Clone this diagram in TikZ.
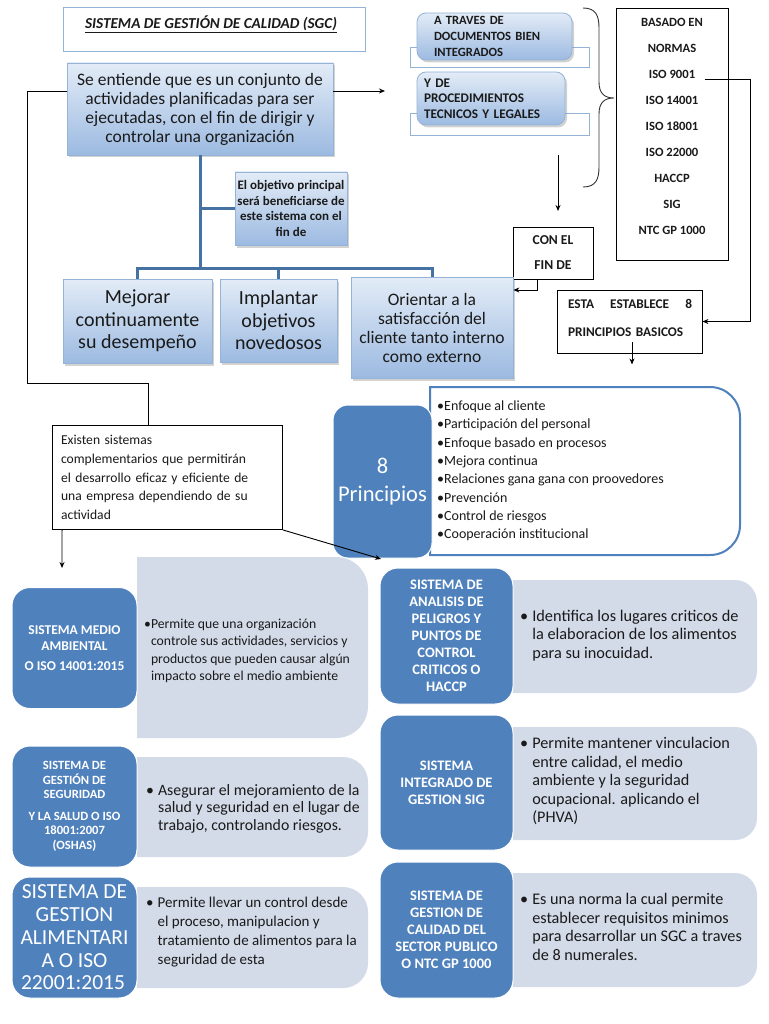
\documentclass[tikz,border=0pt]{standalone}
\usepackage{fontspec}
\setmainfont{Carlito}
\usetikzlibrary{shadows,arrows.meta}
\definecolor{dblue}{HTML}{4F81BD}
\definecolor{gblue}{HTML}{D3DAE8}
\definecolor{lborder}{HTML}{95B3D7}
\definecolor{gtop}{HTML}{E3ECF7}
\definecolor{gbot}{HTML}{9CBAE1}
\definecolor{tline}{HTML}{4672A3}
\definecolor{txt}{HTML}{1A1A1A}
\newcommand{\fsz}[2]{\fontsize{#1}{#2}\selectfont}
\newcommand{\rrshape}[3]{\path[#3] (#1.north west) -- ([xshift=-#2]#1.north east) to[out=0,in=90] ([yshift=-#2]#1.north east) -- ([yshift=#2]#1.south east) to[out=-90,in=0] ([xshift=-#2]#1.south east) -- (#1.south west) -- cycle;}
\begin{document}
\begin{tikzpicture}[x=1pt,y=-1pt,
  gradbox/.style={draw=lborder, line width=0.8pt, top color=gtop, bottom color=gbot, drop shadow={opacity=0.35,shadow xshift=2pt,shadow yshift=-2.5pt}, inner sep=0pt, align=center, text=txt},
  plainbox/.style={draw=black, line width=0.9pt, fill=white, inner sep=0pt, text=txt},
  darkbox/.style={fill=dblue, draw=white, line width=1pt, rounded corners=18pt, text=white, align=center, inner sep=0pt},
  holder/.style={inner sep=0pt, outer sep=0pt},
  arr/.style={draw=black, line width=0.9pt, -{Stealth[length=6pt,width=5pt]}},
  conn/.style={draw=black, line width=0.9pt},
  tree/.style={draw=tline, line width=3pt, line join=miter},
  btext/.style={text=txt, anchor=west, inner sep=0pt},
]
\useasboundingbox (0,0) rectangle (768,1024);
\fill[white] (0,0) rectangle (768,1024);

% title
\node[draw=lborder, line width=1pt, fill=white, minimum width=302pt, minimum height=44pt] (title) at (214,30) {};
\node[font=\fsz{15.2}{18}\bfseries\itshape, text=txt] (titletext) at (211,24) {\underline{SISTEMA DE GESTIÓN DE CALIDAD (SGC)}};

% main box
\node[gradbox, minimum width=266pt, minimum height=92pt, font=\fsz{17.5}{19}] (main) at (200,109) {Se entiende que es un conjunto de\\actividades planificadas para ser\\ejecutadas, con el fin de dirigir y\\controlar una organización};

% top right boxes
\node[draw=lborder, line width=0.8pt, fill=white, minimum width=179pt, minimum height=20pt, inner sep=0pt] (bk1) at (499.5,57) {};
\node[draw=lborder, line width=0.8pt, fill=white, minimum width=179pt, minimum height=22pt, inner sep=0pt] (bk2) at (499.5,124) {};
\node[gradbox, rounded corners=9pt, minimum width=155pt, minimum height=47pt, font=\fsz{12.6}{16}\bfseries, align=left, text width=121pt] (doc) at (494.5,36.5) {A TRAVES DE\\DOCUMENTOS BIEN\\INTEGRADOS};
\node[gradbox, rounded corners=9pt, minimum width=148pt, minimum height=53pt, font=\fsz{13.2}{15.5}\bfseries, align=left, text width=134pt] (proc) at (491,98.5) {Y DE\\PROCEDIMIENTOS\\TECNICOS Y LEGALES};

% brace
\draw[line width=0.9pt, draw=black!80] (583,8) .. controls (596,8) and (599,16) .. (599,28) -- (599,82) .. controls (599,93) and (604,98) .. (614,98) .. controls (604,98) and (599,103) .. (599,114) -- (599,167) .. controls (599,179) and (596,187) .. (583,187);

% normas
\node[plainbox, minimum width=112pt, minimum height=252pt] (norm) at (672,134) {};
\foreach \t [count=\i] in {BASADO EN, NORMAS, ISO 9001, ISO 14001, ISO 18001, ISO 22000, HACCP, SIG, NTC GP 1000}
  \node[font=\fsz{12.6}{14}\bfseries, text=txt] (n\i) at (672,{22+26.1*(\i-1)}) {\t};

% con el fin de
\coordinate (ad1) at (558,155);
\coordinate (ad2) at (558,211);
\draw[arr] (ad1) -- (ad2);
\node[plainbox, minimum width=80pt, minimum height=52pt, font=\fsz{13.6}{25}\bfseries, align=center] (con) at (553,253) {CON EL\\FIN DE};

% esta establece
\node[plainbox, minimum width=145pt, minimum height=63pt] (esta) at (629.5,321.5) {};
\node[font=\fsz{13.3}{28}\bfseries, align=left, text width=124pt, text=txt, inner sep=0pt] (estatext) at (630,318) {\makebox[124pt]{ESTA\hfill ESTABLECE\hfill 8}\\PRINCIPIOS BASICOS};
\draw[conn] ([xshift=6pt,yshift=-5pt]n3.east) -| ([xshift=47.5pt]esta.east);
\draw[arr] ([xshift=47.5pt]esta.east) -- (esta.east);
\draw[arr] ([xshift=2.5pt,yshift=11pt]esta.south) -- ([xshift=2.5pt,yshift=-11pt]esta.south);

% objective tree
\node[gradbox, minimum width=112pt, minimum height=73pt, font=\fsz{13}{15.5}\bfseries] (obj) at (291,208.5) {El objetivo principal\\será beneficiarse de\\este sistema con el\\fin de};
\node[gradbox, minimum width=149pt, minimum height=84pt, font=\fsz{20}{22.5}] (mej) at (137.5,321) {Mejorar\\continuamente\\su desempeño};
\node[gradbox, minimum width=117pt, minimum height=83pt, font=\fsz{20}{22.5}] (impl) at (278.5,320.5) {Implantar\\objetivos\\novedosos};
\node[gradbox, minimum width=162pt, minimum height=101pt, font=\fsz{17.5}{19}] (orient) at (432,327.5) {Orientar a la\\satisfacción del\\cliente tanto interno\\como externo};
\coordinate (hub) at (200,268);
\draw[tree] (main.south) -- (hub);
\draw[tree] (obj.west) -- (obj.west -| hub);
\draw[tree] (mej.north) -- (mej.north |- hub) -- (orient.north |- hub) -- (orient.north);
\draw[tree] (impl.north) -- (impl.north |- hub);
\draw[arr] ([xshift=-16pt]con.south) |- ([yshift=37.5pt]orient.east);

% existen
\node[plainbox, minimum width=230pt, minimum height=104pt, font=\fsz{13.6}{18.8}, align=left, text width=213pt] (exist) at (167.5,477.5) {Existen sistemas\\complementarios que permitirán\\el desarrollo eficaz y eficiente de\\una empresa dependiendo de su\\actividad};
\coordinate (rarrow) at (385,91);
\draw[arr] ([yshift=18pt]main.east) -- (rarrow);
\draw[conn] ([yshift=18pt]main.west) -- (27,91) -- (27,383) -| ([xshift=-19.5pt]exist.north);
\coordinate (a1end) at (62,568);
\draw[arr] ([xshift=10pt]exist.south west) -- (a1end);

% 8 principios
\node[holder, minimum width=310pt, minimum height=168pt] (plist) at (585,471) {};
\rrshape{plist}{30pt}{fill=white, draw=dblue, line width=2pt}
\node[darkbox, rounded corners=15pt, minimum width=99pt, minimum height=153pt, font=\fsz{22.5}{28}] (p8) at (382.5,481.5) {8\\Principios};
\node[font=\fsz{14}{18.3}, align=left, btext] (ptext) at (437,471) {•Enfoque al cliente\\•Participación del personal\\•Enfoque basado en procesos\\•Mejora continua\\•Relaciones gana gana con proovedores\\•Prevención\\•Control de riesgos\\•Cooperación institucional};
\coordinate (a2end) at (381,559);
\draw[arr] (exist.south east) -- (a2end);

% bottom left rows
\node[holder, minimum width=231pt, minimum height=181pt] (g1) at (252.5,647.5) {};
\rrshape{g1}{32pt}{fill=gblue}
\node[darkbox, minimum width=125pt, minimum height=121pt, font=\fsz{13.5}{16}\bfseries] (d1) at (74.5,648) {SISTEMA MEDIO\\AMBIENTAL\\[4pt]O ISO 14001:2015};
\node[btext, font=\fsz{13.7}{17.5}] (t1) at (144,651) {\begin{tabular}{@{}l@{}l@{}}•&Permite que una organización\\&controle sus actividades, servicios y\\&productos que pueden causar algún\\&impacto sobre el medio ambiente\end{tabular}};

\node[holder, minimum width=231pt, minimum height=100pt] (g2) at (252.5,807) {};
\rrshape{g2}{25pt}{fill=gblue}
\node[darkbox, minimum width=125pt, minimum height=121pt, font=\fsz{12.6}{14.5}\bfseries] (d2) at (74.5,806.5) {SISTEMA DE\\GESTIÓN DE\\SEGURIDAD\\[7pt]Y LA SALUD O ISO\\18001:2007\\(OSHAS)};
\node[btext, font=\fsz{15.8}{17.5}] (t2) at (146,809) {\begin{tabular}{@{}l@{\hspace{4pt}}l@{}}•&Asegurar el mejoramiento de la\\&salud y seguridad en el lugar de\\&trabajo, controlando riesgos.\end{tabular}};

\node[holder, minimum width=231pt, minimum height=101pt] (g3) at (252.5,937.5) {};
\rrshape{g3}{25pt}{fill=gblue}
\node[darkbox, minimum width=125pt, minimum height=121pt, font=\fsz{21.5}{22.75}] (d3) at (74.5,937.5) {SISTEMA DE\\GESTION\\ALIMENTARI\\A O ISO\\22001:2015\hspace*{3pt}};
\node[btext, font=\fsz{15}{19}] (t3) at (146,932) {\begin{tabular}{@{}l@{\hspace{4pt}}l@{}}•&Permite llevar un control desde\\&el proceso, manipulacion y\\&tratamiento de alimentos para la\\&seguridad de esta\end{tabular}};

% bottom right rows
\node[holder, minimum width=244pt, minimum height=113pt] (g4) at (635,636.5) {};
\rrshape{g4}{22pt}{fill=gblue}
\node[darkbox, minimum width=133pt, minimum height=136pt, font=\fsz{14.5}{17}\bfseries] (d4) at (446.5,636) {SISTEMA DE\\ANALISIS DE\\PELIGROS Y\\PUNTOS DE\\CONTROL\\CRITICOS O\\HACCP};
\node[btext, font=\fsz{16.3}{18.5}] (t4) at (520,636) {\begin{tabular}{@{}l@{\hspace{4pt}}l@{}}•&Identifica los lugares criticos de\\&la elaboracion de los alimentos\\&para su inocuidad.\end{tabular}};

\node[holder, minimum width=244pt, minimum height=113pt] (g5) at (635,783.5) {};
\rrshape{g5}{22pt}{fill=gblue}
\node[darkbox, minimum width=133pt, minimum height=135pt, font=\fsz{14.5}{17}\bfseries] (d5) at (446.5,782.5) {SISTEMA\\INTEGRADO DE\\GESTION SIG};
\node[btext, font=\fsz{16.2}{18.5}] (t5) at (520,782) {\begin{tabular}{@{}l@{\hspace{4pt}}l@{}}•&Permite mantener vinculacion\\&entre calidad, el medio\\&ambiente y la seguridad\\&ocupacional. aplicando el\\&(PHVA)\end{tabular}};

\node[holder, minimum width=244pt, minimum height=114pt] (g6) at (635,930) {};
\rrshape{g6}{22pt}{fill=gblue}
\node[darkbox, minimum width=133pt, minimum height=136pt, font=\fsz{14.5}{17}\bfseries] (d6) at (446.5,930) {SISTEMA DE\\GESTION DE\\CALIDAD DEL\\SECTOR PUBLICO\\O NTC GP 1000};
\node[btext, font=\fsz{16.2}{18.5}] (t6) at (520,929) {\begin{tabular}{@{}l@{\hspace{4pt}}l@{}}•&Es una norma la cual permite\\&establecer requisitos minimos\\&para desarrollar un SGC a traves\\&de 8 numerales.\end{tabular}};
\end{tikzpicture}
\end{document}
